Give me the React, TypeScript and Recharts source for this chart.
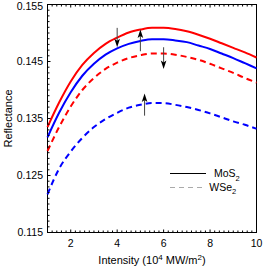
import { LineChart, Line, XAxis, YAxis, ReferenceLine, Customized } from "recharts"

// intensity (10^4 MW/m^2)
const intensity = [1, 1.5, 2, 2.5, 3, 3.5, 4, 4.5, 5, 5.5, 6, 6.5, 7, 7.5, 8, 8.5, 9, 9.5, 10]

// reflectance, solid = MoS2, dashed = WSe2
const mos2Red = [0.1335, 0.1378, 0.1415, 0.1444, 0.1465, 0.1481, 0.1492, 0.1501, 0.1506, 0.1509, 0.1509, 0.1507, 0.1503, 0.1497, 0.149, 0.1482, 0.1474, 0.1466, 0.1457]
const mos2Blue = [0.1317, 0.136, 0.1396, 0.1425, 0.1446, 0.1462, 0.1473, 0.1481, 0.1486, 0.1489, 0.1489, 0.1487, 0.1484, 0.1478, 0.1472, 0.1464, 0.1456, 0.1447, 0.1438]
const wse2Red = [0.1293, 0.1335, 0.1371, 0.14, 0.1421, 0.1437, 0.1448, 0.1456, 0.1461, 0.1464, 0.1464, 0.1462, 0.1458, 0.1453, 0.1446, 0.1438, 0.143, 0.1421, 0.1413]
const wse2Blue = [0.1217, 0.1262, 0.1292, 0.1316, 0.1335, 0.1349, 0.136, 0.1369, 0.1374, 0.1377, 0.1377, 0.1374, 0.137, 0.1365, 0.1359, 0.1352, 0.1345, 0.1339, 0.1332]

const xTicks = [2, 4, 6, 8, 10]
const yTicks = [0.115, 0.125, 0.135, 0.145, 0.155]
const yTickLabels = ["0.115", "0.125", "0.135", "0.145", "0.155"]

// arrows: x, tail, head
const arrowX = [4.0, 5.0, 6.0, 5.18]
const arrowFrom = [0.1509, 0.1468, 0.1475, 0.1355]
const arrowTo = [0.1475, 0.1506, 0.1437, 0.1394]

const legendNames = ["MoS", "WSe"]

const data = intensity.map((x, i) => ({
  x,
  mos2Red: mos2Red[i],
  mos2Blue: mos2Blue[i],
  wse2Red: wse2Red[i],
  wse2Blue: wse2Blue[i],
}))

const xMinor: number[] = []
for (let i = 0; i <= 45; i++) xMinor.push(Number((1 + i * 0.2).toFixed(1)))
const yMinor: number[] = []
for (let i = 0; i <= 40; i++) yMinor.push(Number((0.115 + i * 0.001).toFixed(3)))

const font = "'Liberation Sans', Arial, sans-serif"
const isIn = (arr: number[], v: number) => arr.some((a) => Math.abs(a - v) < 1e-6)

// plot frame (px)
const L = 47.5
const R = 256.5
const T = 4.5
const B = 232.5

const BottomTick = (p: any) => {
  const major = isIn(xTicks, p.payload.value)
  return (
    <g>
      <line x1={p.x} x2={p.x} y1={B} y2={B - (major ? 3 : 2)} stroke="#000" />
      {major && (
        <text x={p.x} y={B + 14.5} textAnchor="middle" fontSize={10.5} fontFamily={font} fill="#000">
          {p.payload.value}
        </text>
      )}
    </g>
  )
}
const TopTick = (p: any) => {
  const major = isIn(xTicks, p.payload.value)
  return <line x1={p.x} x2={p.x} y1={T} y2={T + (major ? 3 : 2)} stroke="#000" />
}
const LeftTick = (p: any) => {
  const idx = yTicks.findIndex((v) => Math.abs(v - p.payload.value) < 1e-6)
  return (
    <g>
      <line x1={L} x2={L + (idx >= 0 ? 3 : 2)} y1={p.y} y2={p.y} stroke="#000" />
      {idx >= 0 && (
        <text x={L - 4.5} y={Math.max(p.y, 6)} dy="0.36em" textAnchor="end" fontSize={10.5} fontFamily={font} fill="#000">
          {yTickLabels[idx]}
        </text>
      )}
    </g>
  )
}
const RightTick = (p: any) => {
  const major = isIn(yTicks, p.payload.value)
  return <line x1={R} x2={R - (major ? 3 : 2)} y1={p.y} y2={p.y} stroke="#000" />
}

const Arrow = (p: any) => {
  const { x1, y1, x2, y2 } = p
  const dir = y2 > y1 ? 1 : -1
  const len = 8.5
  return (
    <g>
      <line x1={x1} y1={y1} x2={x2} y2={y2 - dir * 4} stroke="#444" strokeWidth={1} />
      <path d={`M${x2},${y2} L${x2 - 2.8},${y2 - dir * len} L${x2},${y2 - dir * (len - 2)} L${x2 + 2.8},${y2 - dir * len} Z`} fill="#000" />
    </g>
  )
}

const Extras = () => (
  <g fontFamily={font} fill="#000">
    <rect x={L} y={T} width={R - L} height={B - T} fill="none" stroke="#000" strokeWidth={1} />
    <text x={12} y={118.5} transform="rotate(-90 12 118.5)" textAnchor="middle" fontSize={11}>
      Reflectance
    </text>
    <text x={152} y={263.5} textAnchor="middle" fontSize={11}>
      Intensity (10<tspan dy={-4} fontSize={8}>4</tspan>
      <tspan dy={4}> MW/m</tspan>
      <tspan dy={-4} fontSize={8}>2</tspan>
      <tspan dy={4}>)</tspan>
    </text>
    <line x1={170} x2={206} y1={173.5} y2={173.5} stroke="#000" strokeWidth={1} />
    <text x={214} y={177.3} fontSize={10.5}>
      {legendNames[0]}
      <tspan dy={3.5} fontSize={7.5}>2</tspan>
    </text>
    <line x1={170} x2={206} y1={187.5} y2={187.5} stroke="#aaa" strokeWidth={1} strokeDasharray="5 4" />
    <text x={209.3} y={190.7} fontSize={10.5}>
      {legendNames[1]}
      <tspan dy={3.5} fontSize={7.5}>2</tspan>
    </text>
  </g>
)

export default function App() {
  return (
    <div style={{ width: 263, height: 267 }}>
      <style>{"body{margin:0}"}</style>
      <LineChart width={263} height={267} data={data} margin={{ top: T - 1, right: 263 - R - 1, bottom: 267 - B - 1, left: L - 1 }}>
        <XAxis
          xAxisId="b"
          dataKey="x"
          type="number"
          domain={[1, 10]}
          ticks={xMinor}
          interval={0}
          height={1}
          tickSize={0}
          tickMargin={0}
          tickLine={false}
          axisLine={false}
          tick={BottomTick}
        />
        <XAxis
          xAxisId="t"
          orientation="top"
          dataKey="x"
          type="number"
          domain={[1, 10]}
          ticks={xMinor}
          interval={0}
          height={1}
          tickSize={0}
          tickMargin={0}
          tickLine={false}
          axisLine={false}
          tick={TopTick}
        />
        <YAxis
          yAxisId="l"
          type="number"
          domain={[0.115, 0.155]}
          ticks={yMinor}
          interval={0}
          width={1}
          tickSize={0}
          tickMargin={0}
          tickLine={false}
          axisLine={false}
          tick={LeftTick}
        />
        <YAxis
          yAxisId="r"
          orientation="right"
          type="number"
          domain={[0.115, 0.155]}
          ticks={yMinor}
          interval={0}
          width={1}
          tickSize={0}
          tickMargin={0}
          tickLine={false}
          axisLine={false}
          tick={RightTick}
        />
        <Line xAxisId="b" yAxisId="l" type="monotone" dataKey="mos2Red" stroke="#ff0000" strokeWidth={2} dot={false} activeDot={false} isAnimationActive={false} />
        <Line xAxisId="b" yAxisId="l" type="monotone" dataKey="mos2Blue" stroke="#0000ff" strokeWidth={2} dot={false} activeDot={false} isAnimationActive={false} />
        <Line xAxisId="b" yAxisId="l" type="monotone" dataKey="wse2Red" stroke="#ff0000" strokeWidth={2} strokeDasharray="6 4" dot={false} activeDot={false} isAnimationActive={false} />
        <Line xAxisId="b" yAxisId="l" type="monotone" dataKey="wse2Blue" stroke="#0000ff" strokeWidth={2} strokeDasharray="6 4" dot={false} activeDot={false} isAnimationActive={false} />
        {arrowX.map((x, i) => (
          <ReferenceLine
            key={i}
            xAxisId="b"
            yAxisId="l"
            segment={[
              { x, y: arrowFrom[i] },
              { x, y: arrowTo[i] },
            ]}
            shape={Arrow}
          />
        ))}
        <Customized component={Extras} />
      </LineChart>
    </div>
  )
}
